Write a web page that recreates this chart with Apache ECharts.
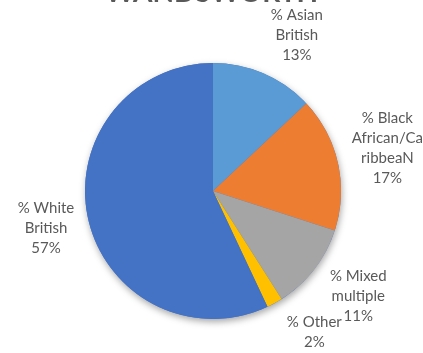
<!DOCTYPE html>
<html>
<head>
<meta charset="utf-8">
<script src="https://cdn.jsdelivr.net/npm/echarts@6/dist/echarts.min.js"></script>
<style>
  html, body { margin: 0; padding: 0; background: #fff; }
  #chart { width: 423px; height: 353px; }
</style>
</head>
<body>
<div id="chart"></div>
<script>
// Ethnic make-up of Wandsworth, share of residents (%)
const categories = [
  '% Asian\nBritish',
  '% Black\nAfrican/Ca\nribbeaN',
  '% Mixed\nmultiple',
  '% Other',
  '% White\nBritish'
];
const shares = [13, 17, 11, 2, 57];
const sliceColors = ['#5B9BD5', '#ED7D31', '#A5A5A5', '#FFC000', '#4472C4'];

// small hand nudges [dx, dy] applied after the automatic label placement
const labelNudge = [[14, 5], [0, -3], [4, -4], [20, -1], [1, 0]];

const FONT = 'Lato, "Noto Sans", sans-serif';
const TEXT = '#595959';
const CX = 213, CY = 191, R = 128;
const LABEL_GAP = 10;
const CHART_W = 423, CHART_H = 353;

// mid-angle of each slice, degrees clockwise from 12 o'clock
const total = shares.reduce((a, b) => a + b, 0);
const midAngles = [];
shares.reduce((acc, v) => { midAngles.push((acc + v / 2) / total * 360); return acc + v; }, 0);

// Put a label box just outside the disc along its slice's mid-angle,
// then pull it back inside the canvas if it spills over an edge.
function placeLabel(angleDeg, w, h) {
  const rad = angleDeg * Math.PI / 180;
  const ux = Math.sin(rad), uy = -Math.cos(rad);
  const t = (w / 2) * Math.abs(ux) + (h / 2) * Math.abs(uy);
  const d = R + LABEL_GAP + t;
  let x = CX + d * ux, y = CY + d * uy;
  x = Math.min(Math.max(x, w / 2), CHART_W - w / 2);
  y = Math.min(Math.max(y, h / 2), CHART_H - h / 2);
  return { x, y };
}

const chart = echarts.init(document.getElementById('chart'), null, { renderer: 'canvas' });
chart.setOption({
  backgroundColor: '#ffffff',
  animation: false,
  title: {
    text: 'WANDSWORTH',
    left: 'center',
    top: -26,
    textStyle: { fontFamily: FONT, fontWeight: 'bold', fontSize: 28, color: TEXT }
  },
  series: [
    {
      // soft drop shadow under the whole disc
      type: 'pie',
      silent: true,
      z: 1,
      center: [CX, CY],
      radius: R,
      label: { show: false },
      labelLine: { show: false },
      data: [{
        value: 1,
        itemStyle: {
          color: '#4472C4',
          shadowBlur: 7,
          shadowColor: 'rgba(0,0,0,0.35)',
          shadowOffsetX: 1,
          shadowOffsetY: 3
        }
      }]
    },
    {
      type: 'pie',
      z: 2,
      center: [CX, CY],
      radius: R,
      startAngle: 90,
      clockwise: true,
      avoidLabelOverlap: false,
      labelLine: { show: false, length: 0, length2: 0 },
      label: {
        show: true,
        position: 'outside',
        formatter: p => p.name + '\n' + p.value + '%',
        fontFamily: FONT,
        fontSize: 15,
        lineHeight: 20,
        color: TEXT,
        align: 'center'
      },
      labelLayout: params => {
        const i = params.dataIndex;
        const w = params.labelRect.width, h = params.labelRect.height;
        const p = placeLabel(midAngles[i], w, h);
        return {
          x: p.x + labelNudge[i][0],
          y: p.y + labelNudge[i][1],
          align: 'center',
          verticalAlign: 'middle'
        };
      },
      data: categories.map((name, i) => ({
        name,
        value: shares[i],
        itemStyle: { color: sliceColors[i] }
      }))
    }
  ]
});
</script>
</body>
</html>
